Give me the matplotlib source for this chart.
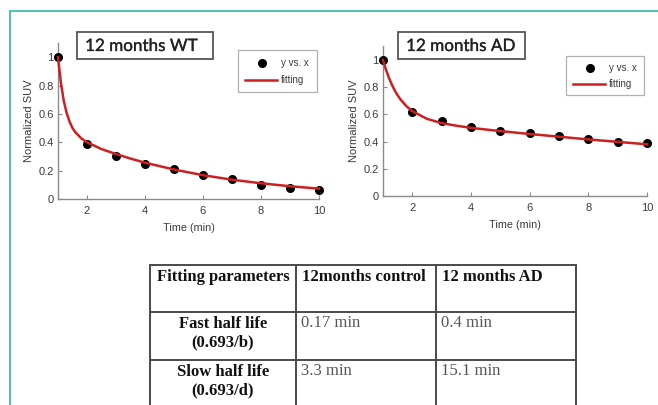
import matplotlib
matplotlib.use("Agg")
import matplotlib.pyplot as plt
from matplotlib.patches import Rectangle
from matplotlib.lines import Line2D
import matplotlib.patheffects as pe

# ---------------- data ----------------
time_pts = [1, 2, 3, 4, 5, 6, 7, 8, 9, 10]
wt_suv = [1.0, 0.39, 0.30, 0.25, 0.21, 0.17, 0.14, 0.10, 0.08, 0.06]
ad_suv = [1.0, 0.62, 0.55, 0.51, 0.48, 0.46, 0.44, 0.42, 0.40, 0.39]

fit_time = [1, 1.1, 1.2, 1.3, 1.4, 1.5, 1.6, 1.8, 2, 2.5, 3, 3.5, 4, 5, 6, 7, 8, 9, 10]
wt_fit = [1.0, 0.82, 0.69, 0.605, 0.545, 0.50, 0.47, 0.428, 0.40, 0.352, 0.317,
          0.285, 0.256, 0.208, 0.168, 0.136, 0.111, 0.090, 0.073]
ad_fit = [1.0, 0.93, 0.87, 0.82, 0.776, 0.74, 0.709, 0.66, 0.624, 0.567, 0.536,
          0.517, 0.501, 0.477, 0.456, 0.436, 0.416, 0.398, 0.38]

titles = ["12 months WT", "12 months AD"]
legend_labels = ["y vs. x", "fitting"]
x_ticks = [2, 4, 6, 8, 10]
y_ticks = [0, 0.2, 0.4, 0.6, 0.8, 1]
y_ticklabels = ["0", "0.2", "0.4", "0.6", "0.8", "1"]

table_header = ["Fitting parameters", "12months control", "12 months AD"]
table_rows = [
    ["Fast half life\n(0.693/b)", "0.17 min", "0.4 min"],
    ["Slow half life\n(0.693/d)", "3.3 min", "15.1 min"],
]

# ---------------- figure ----------------
W, H = 658, 405
fig = plt.figure(figsize=(W / 100, H / 100), dpi=100)
fig.patch.set_facecolor("white")

def fx(px):
    return px / W

def fy(py):
    return 1 - py / H

# teal frame lines
teal = "#3cbfa8"
fig.add_artist(Line2D([fx(9.5), fx(9.5)], [fy(11), fy(405)], color=teal, lw=1.3))
fig.add_artist(Line2D([fx(9.5), fx(658)], [fy(11), fy(11)], color=teal, lw=1.3))

sans = ["Liberation Sans", "DejaVu Sans"]
axcol = "#8a8a8a"
txtcol = "#3a3a3a"
red = "#cc2020"

def make_panel(x0, x1, y0, y1top, yval_top, suv, fit, title, tbox, leg):
    ax = fig.add_axes([fx(x0), fy(y0), fx(x1 - x0), (y0 - y1top) / H])
    ax.set_xlim(1, 10)
    ax.set_ylim(0, yval_top)
    ax.plot(time_pts, suv, "o", color="black", ms=5.5, zorder=3, clip_on=False)
    ax.plot(fit_time, fit, "-", color=red, lw=1.8, zorder=4, clip_on=False)
    for s in ["top", "right"]:
        ax.spines[s].set_visible(False)
    for s in ["left", "bottom"]:
        ax.spines[s].set_color(axcol)
        ax.spines[s].set_linewidth(1.0)
    ax.set_xticks(x_ticks)
    ax.set_yticks(y_ticks)
    ax.set_yticklabels(y_ticklabels)
    ax.tick_params(direction="in", length=3, color=axcol, labelcolor=txtcol,
                   labelsize=8, pad=3)
    ax.tick_params(axis="x", pad=5)
    for lab in ax.get_xticklabels() + ax.get_yticklabels():
        lab.set_family(sans)
    ax.set_xlabel("Time (min)", fontsize=7.8, color=txtcol, family=sans, labelpad=5)
    ax.set_ylabel("Normalized SUV", fontsize=8, color=txtcol, family=sans, labelpad=3)
    ax.patch.set_alpha(0)

    # title box
    bx0, by0, bx1, by1, tx = tbox
    fig.add_artist(Rectangle((fx(bx0), fy(by1)), fx(bx1 - bx0), (by1 - by0) / H,
                             fill=False, edgecolor="#555555", lw=1.3))
    fig.text(fx(tx), fy((by0 + by1) / 2 + 0.5), title, fontsize=12.3,
             family=["Lato", "DejaVu Sans"], color="#222222", va="center", ha="left",
             path_effects=[pe.withStroke(linewidth=0.2, foreground="#222222")])

    # legend box
    lx0, ly0, lx1, ly1 = leg
    fig.add_artist(Rectangle((fx(lx0), fy(ly1)), fx(lx1 - lx0), (ly1 - ly0) / H,
                             fill=False, edgecolor="#b0b0b0", lw=0.9))
    r1 = ly0 + (ly1 - ly0) * 0.30
    r2 = ly0 + (ly1 - ly0) * 0.72
    fig.add_artist(Line2D([fx(lx0 + 24)], [fy(r1)], marker="o", color="black", ms=5.5))
    fig.add_artist(Line2D([fx(lx0 + 7), fx(lx0 + 39)], [fy(r2), fy(r2)], color=red, lw=1.8))
    fig.text(fx(lx0 + 43), fy(r1), legend_labels[0], fontsize=7, family=sans,
             color=txtcol, va="center", ha="left")
    fig.text(fx(lx0 + 43), fy(r2), legend_labels[1], fontsize=7, family=sans,
             color=txtcol, va="center", ha="left")
    return ax

make_panel(58, 319, 199, 43, 1.1, wt_suv, wt_fit, titles[0],
           (77, 32, 213, 59, 85), (238, 50, 317, 92))
make_panel(383, 647, 196, 46.4, 1.1, ad_suv, ad_fit, titles[1],
           (398, 32, 525, 59, 406), (566, 56, 644, 95))

# ---------------- table ----------------
col_x = [150, 296, 436, 576]
row_y = [265, 312, 360, 407]
lc = "#4a4a4a"
for xx in col_x:
    fig.add_artist(Line2D([fx(xx), fx(xx)], [fy(row_y[0]), fy(405)], color=lc, lw=1.4))
for yy in row_y[:3]:
    fig.add_artist(Line2D([fx(col_x[0]), fx(col_x[-1])], [fy(yy), fy(yy)], color=lc, lw=1.4))

serif = ["Liberation Serif", "DejaVu Serif"]
fs = 12
fig.text(fx(col_x[0] + 73), fy(277), table_header[0], fontsize=fs, family=serif,
         weight="bold", ha="center", va="center", color="#111111")
for j in (1, 2):
    fig.text(fx(col_x[j] + 6), fy(277), table_header[j], fontsize=fs, family=serif,
             weight="bold", ha="left", va="center", color="#111111")
for i, row in enumerate(table_rows):
    ytop = row_y[i + 1]
    fig.text(fx(col_x[0] + 73), fy(ytop + 21), row[0], fontsize=fs, family=serif,
             weight="bold", ha="center", va="center", color="#111111", linespacing=1.2)
    for j in (1, 2):
        fig.text(fx(col_x[j] + 5), fy(ytop + 11), row[j], fontsize=fs, family=serif,
                 ha="left", va="center", color="#555555")

fig.savefig("out.png", dpi=100, facecolor="white")
